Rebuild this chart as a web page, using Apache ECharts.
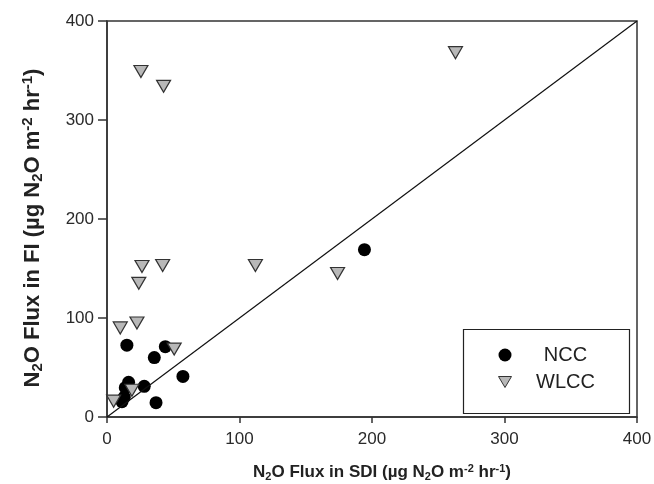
<!DOCTYPE html>
<html>
<head>
<meta charset="utf-8">
<script src="https://cdn.jsdelivr.net/npm/echarts@6/dist/echarts.min.js"></script>
<style>
  html, body { margin: 0; padding: 0; background: #fff; }
  #chart { width: 654px; height: 484px; }
</style>
</head>
<body>
<div id="chart"></div>
<script>
// N2O flux measured under SDI (x) vs. FI (y), µg N2O m-2 hr-1
var nccSDI = [15, 35.7, 44, 57.3, 28.1, 16.3, 13.8, 13, 11.3, 37, 194.3];
var nccFI  = [72.6, 60, 71, 41, 31, 35, 29.6, 20, 15.5, 14.5, 169];

var wlccSDI = [25.6, 42.7, 26.4, 42, 24, 22.6, 10, 50.7, 18.8, 5, 112, 174, 263];
var wlccFI  = [349, 334, 152, 153, 135, 95, 90, 68.6, 27, 16, 153, 145, 368];

// 1:1 reference line
var oneToOne = [[0, 0], [400, 400]];

var axisTicks = [0, 100, 200, 300, 400];

function pairs(xs, ys) {
  return xs.map(function (x, i) { return [x, ys[i]]; });
}

var font = 'Arial, "Liberation Sans", sans-serif';
function titleRich(size) {
  var small = Math.round(size * 0.66);
  var shift = Math.round(size * 0.45);
  return {
    b: { fontFamily: font, fontWeight: 'bold', fontSize: size, color: '#222' },
    sub: { fontFamily: font, fontWeight: 'bold', fontSize: small, color: '#222', verticalAlign: 'bottom', padding: [shift, 0, 0, 0] },
    sup: { fontFamily: font, fontWeight: 'bold', fontSize: small, color: '#222', verticalAlign: 'top', padding: [0, 0, shift, 0] }
  };
}

var chart = echarts.init(document.getElementById('chart'));
chart.setOption({
  animation: false,
  grid: {
    left: 107, right: 17, top: 21, bottom: 67,
    outerBoundsMode: 'none', containLabel: false,
    show: true, borderColor: '#333', borderWidth: 1.5
  },
  xAxis: {
    type: 'value', min: axisTicks[0], max: axisTicks[axisTicks.length - 1], interval: 100,
    splitLine: { show: false },
    axisLine: { lineStyle: { color: '#333', width: 1.5 } },
    axisTick: { inside: false, length: 6, lineStyle: { color: '#333', width: 1.5 } },
    axisLabel: { fontFamily: font, fontSize: 17, color: '#2a2a2a', margin: 14 },
    name: '{b|N}{sub|2}{b|O Flux in SDI (µg N}{sub|2}{b|O m}{sup|-2}{b| hr}{sup|-1}{b|)}',
    nameLocation: 'middle', nameGap: 46,
    nameTextStyle: { rich: titleRich(17), padding: [0, 0, 0, 20] }
  },
  yAxis: {
    type: 'value', min: axisTicks[0], max: axisTicks[axisTicks.length - 1], interval: 100,
    splitLine: { show: false },
    axisLine: { lineStyle: { color: '#333', width: 1.5 } },
    axisTick: { inside: false, length: 9, lineStyle: { color: '#333', width: 1.5 } },
    axisLabel: { fontFamily: font, fontSize: 17, color: '#2a2a2a', margin: 13 },
    name: '{b|N}{sub|2}{b|O Flux in FI (µg N}{sub|2}{b|O m}{sup|-2}{b| hr}{sup|-1}{b|)}',
    nameLocation: 'middle', nameGap: 62, nameRotate: 90,
    nameTextStyle: { rich: titleRich(22), padding: [0, 18, 0, 0] }
  },
  legend: {
    orient: 'vertical', left: 493, top: 340, itemGap: 7,
    itemWidth: 13, itemHeight: 13,
    formatter: function (name) { return '{c|' + name + '}'; },
    textStyle: {
      padding: [0, 0, 0, 14],
      rich: { c: { fontFamily: font, fontSize: 20, color: '#222', width: 70, align: 'center' } }
    },
    data: [
      { name: 'NCC', icon: 'circle', itemStyle: { color: '#000', borderWidth: 0 } },
      { name: 'WLCC', icon: 'path://M0,0 L13,0 L6.5,11 Z', itemStyle: { color: '#b8b8b8', borderColor: '#333', borderWidth: 1 } }
    ]
  },
  graphic: [{
    type: 'rect', left: 461, top: 327,
    shape: { width: 166, height: 84 },
    style: { fill: 'none', stroke: '#222', lineWidth: 1.2 },
    z: 10
  }],
  series: [
    {
      type: 'line', data: oneToOne, symbol: 'none', silent: true,
      lineStyle: { color: '#111', width: 1.2 }
    },
    {
      name: 'NCC', type: 'scatter', data: pairs(nccSDI, nccFI),
      symbol: 'circle', symbolSize: 13,
      itemStyle: { color: '#000', opacity: 1 }
    },
    {
      name: 'WLCC', type: 'scatter', data: pairs(wlccSDI, wlccFI),
      symbol: 'path://M0,0 L14,0 L7,12 Z', symbolSize: [14, 12],
      itemStyle: { color: '#b8b8b8', borderColor: '#333', borderWidth: 1.2, opacity: 1 }
    }
  ]
});
</script>
</body>
</html>
